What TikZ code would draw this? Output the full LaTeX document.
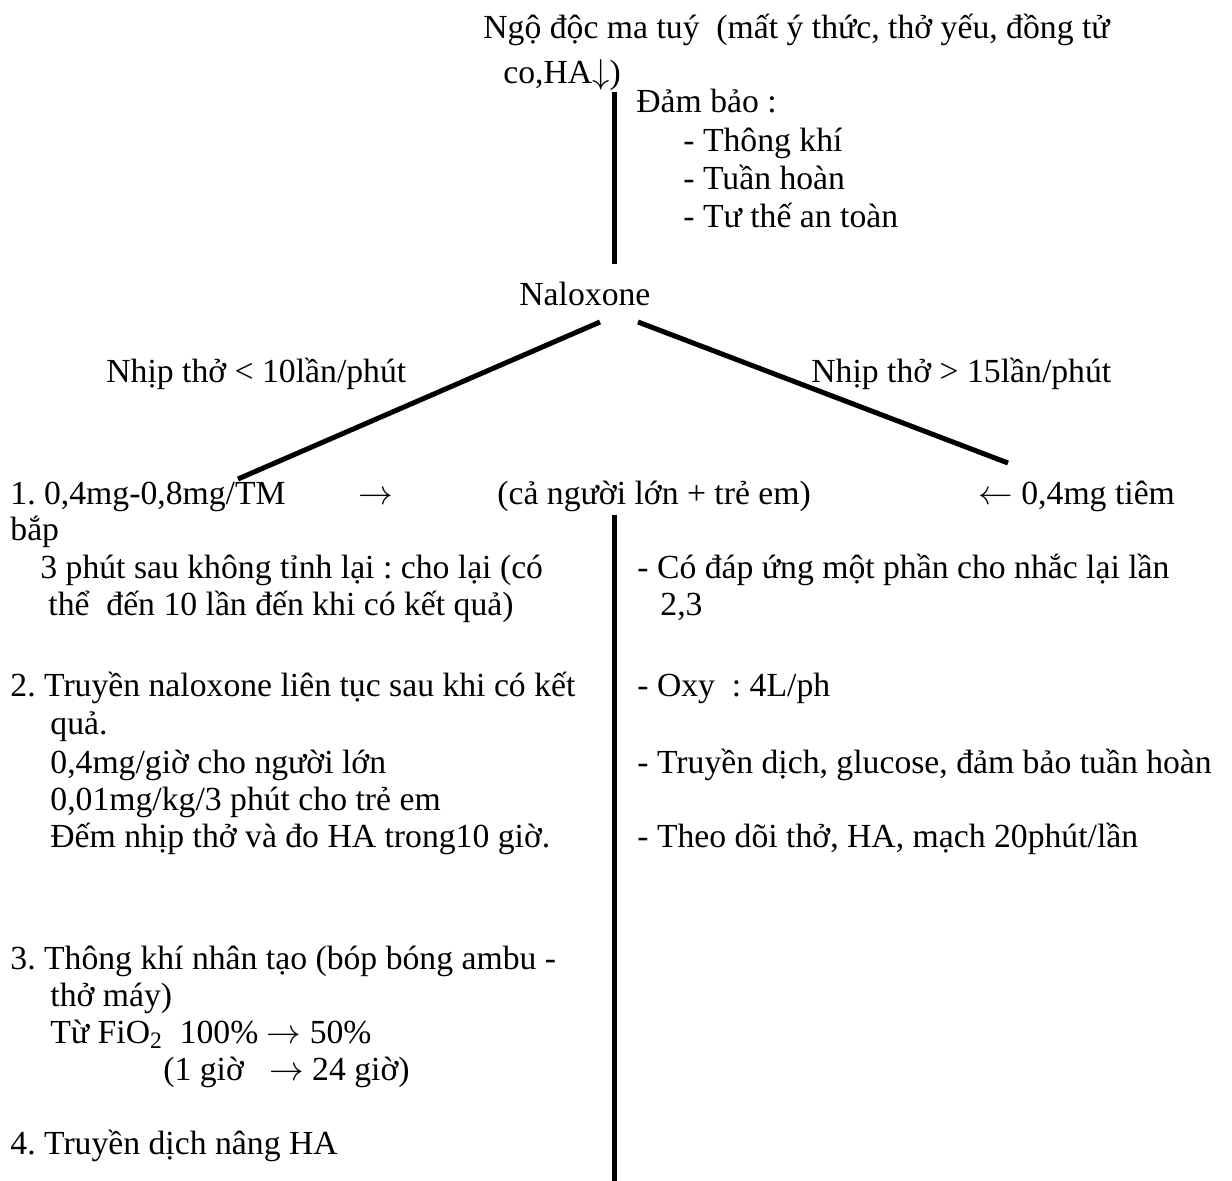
\documentclass[tikz,border=0pt]{standalone}
\usepackage{fontspec}
\setmainfont{Liberation Serif}
\begin{document}
\begin{tikzpicture}[x=0.5pt,y=-0.5pt,
		txt/.style={anchor=base west,inner sep=0pt,font=\fontsize{16.85}{19}\selectfont\frenchspacing},
		bar/.style={line width=2.5pt}]
		\useasboundingbox (0,0) rectangle (1232,1181);
		%%%%% START %%%%%
		
		\node[txt] (title) at (483,39) {Ngộ độc ma tuý\ \ (mất ý thức, thở yếu, đồng tử};
		\node[txt] (title2) at (503,84) {co,HA$\downarrow$)};
		
		\coordinate (topA) at (614,92);
		\coordinate (topB) at (614,264);
		\draw[bar] (topA) -- (topB);
		
		\node[txt] (dambao) at (636,113) {Đảm bảo :};
		\node[txt] (thongkhi) at (683,152) {- Thông khí};
		\node[txt] (tuanhoan) at (683,190) {- Tuần hoàn};
		\node[txt] (tuthe) at (683,228) {- Tư thế an toàn};
		
		\node[txt] (nalox) at (519,306) {Naloxone};
		
		\coordinate (naloL) at (600,322);
		\coordinate (naloR) at (638,322);
		\coordinate (endL) at (238,479);
		\coordinate (endR) at (1008,463);
		\draw[bar] (naloL) -- (endL);
		\draw[bar] (naloR) -- (endR);
		
		\node[txt] (slow) at (106,383) {Nhịp thở < 10lần/phút};
		\node[txt] (fast) at (811,383) {Nhịp thở > 15lần/phút};
		
		\node[txt] (dose1) at (10,505) {1. 0,4mg-0,8mg/TM};
		\node[txt] (arrR) at (358,505) {$\rightarrow$};
		\node[txt] (both) at (497,505) {(cả người lớn + trẻ em)};
		\node[txt] (dose2) at (978,505) {$\leftarrow$ 0,4mg tiêm};
		
		\coordinate (midA) at (614,515);
		\coordinate (midB) at (614,1181);
		\draw[bar] (midA) -- (midB);
		
		%%%%% LEFT %%%%%
		\node[txt] (bap) at (10,541) {bắp};
		\node[txt] (l1a) at (40,579) {3 phút sau không tỉnh lại : cho lại (có};
		\node[txt] (l1b) at (48,616) {thể\ \ đến 10 lần đến khi có kết quả)};
		
		\node[txt] (l2a) at (10,697) {2. Truyền naloxone liên tục sau khi có kết};
		\node[txt] (l2b) at (50,734) {quả.};
		\node[txt] (l2c) at (50,773) {0,4mg/giờ cho người lớn};
		\node[txt] (l2d) at (50,810) {0,01mg/kg/3 phút cho trẻ em};
		\node[txt] (l2e) at (50,847) {Đếm nhịp thở và đo HA trong10 giờ.};
		
		\node[txt] (l3a) at (10,969) {3. Thông khí nhân tạo (bóp bóng ambu -};
		\node[txt] (l3b) at (50,1006) {thở máy)};
		\node[txt] (l3c) at (50,1043) {Từ FiO\textsubscript{2}\ \ 100\% $\rightarrow$ 50\%};
		\node[txt] (l3d) at (163,1080) {(1 giờ\ \ \ $\rightarrow$ 24 giờ)};
		
		\node[txt] (l4) at (10,1154) {4. Truyền dịch nâng HA};
		
		%%%%% RIGHT %%%%%
		\node[txt] (r1a) at (637,579) {- Có đáp ứng một phần cho nhắc lại lần};
		\node[txt] (r1b) at (660,616) {2,3};
		\node[txt] (r2) at (637,697) {- Oxy\ \ : 4L/ph};
		\node[txt] (r3) at (637,773) {- Truyền dịch, glucose, đảm bảo tuần hoàn};
		\node[txt] (r4) at (637,847) {- Theo dõi thở, HA, mạch 20phút/lần};
		
		%%%%% END %%%%%
	\end{tikzpicture}
\end{document}
